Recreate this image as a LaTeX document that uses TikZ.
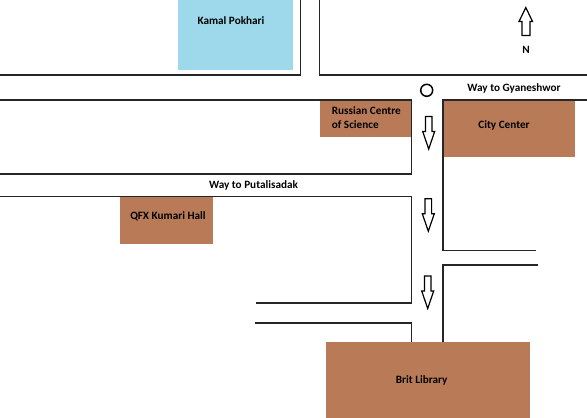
\documentclass[tikz,border=0pt]{standalone}
\usepackage{fontspec}
\setmainfont{Carlito}

\definecolor{building}{HTML}{B97A57}
\definecolor{pond}{HTML}{9DD9EA}

\begin{document}
\begin{tikzpicture}[
    x=1pt,y=-1pt,font=\bfseries\fontsize{11.2}{14}\selectfont,
    road/.style={line width=1.4pt,color=black!85},
    building lot/.style={fill=building},
    pond lot/.style={fill=pond},
    flow arrow/.style={line width=1.2pt,fill=white,line join=miter},
    junction/.style={circle,draw,line width=1.5pt,inner sep=0pt,minimum size=12pt},
    place label/.style={inner sep=0pt,text=black}
]
    \useasboundingbox (0,0) rectangle (587,418);

    % Lots.
    \fill[pond lot] (178,0) rectangle (293,69.5);
    \fill[building lot] (319.5,100) rectangle (411,137);
    \fill[building lot] (443,100) rectangle (574.5,157);
    \fill[building lot] (120,196.5) rectangle (213,243.5);

    % Road edges, north side.
    \draw[road] (0,75) -- (300.5,75) -- (300.5,0);
    \draw[road] (319.5,0) -- (319.5,75) -- (587,75);

    % Road edges, west side.
    \draw[road] (0,100) -- (411.5,100) -- (411.5,174) -- (0,174);
    \draw[road] (0,196.5) -- (411.5,196.5) -- (411.5,303) -- (256,303);
    \draw[road] (255,323) -- (411.5,323) -- (411.5,342);

    % Road edges, east side.
    \draw[road] (587,100) -- (443,100) -- (443,250.5) -- (536,250.5);
    \draw[road] (538,265) -- (443,265) -- (443,342);

    \fill[building lot] (326,342) rectangle (530,418);

    % Driving direction down the road.
    \foreach \xmid/\ytop in {428.7/116.5,428.3/198.7,427.7/276} {
        \draw[flow arrow] (\xmid-3.3,\ytop) -- (\xmid+3.3,\ytop) -- (\xmid+3.3,\ytop+15)
            -- (\xmid+6,\ytop+15) -- (\xmid,\ytop+32.5) -- (\xmid-6,\ytop+15)
            -- (\xmid-3.3,\ytop+15) -- cycle;
    }

    % North mark.
    \draw[flow arrow] (522,35.5) -- (530,35.5) -- (530,21.5) -- (532.5,21.5) -- (525.8,7.5)
        -- (519,21.5) -- (522,21.5) -- cycle;
    \node[place label] (north) at (526,49.5) {N};

    \node[junction] (circle) at (426.7,90.3) {};

    \node[place label] (kamal) at (231,20.5) {Kamal Pokhari};
    \node[place label] (gyaneshwor) at (514,88) {Way to Gyaneshwor};
    \node[place label] (putalisadak) at (253.5,185) {Way to Putalisadak};
    \node[place label,align=left,anchor=west] (russian) at (331.7,118) {Russian Centre\\of Science};
    \node[place label] (citycenter) at (504,125) {City Center};
    \node[place label] (qfx) at (168,216.7) {QFX Kumari Hall};
    \node[place label] (brit) at (421.7,380) {Brit Library};
\end{tikzpicture}
\end{document}
